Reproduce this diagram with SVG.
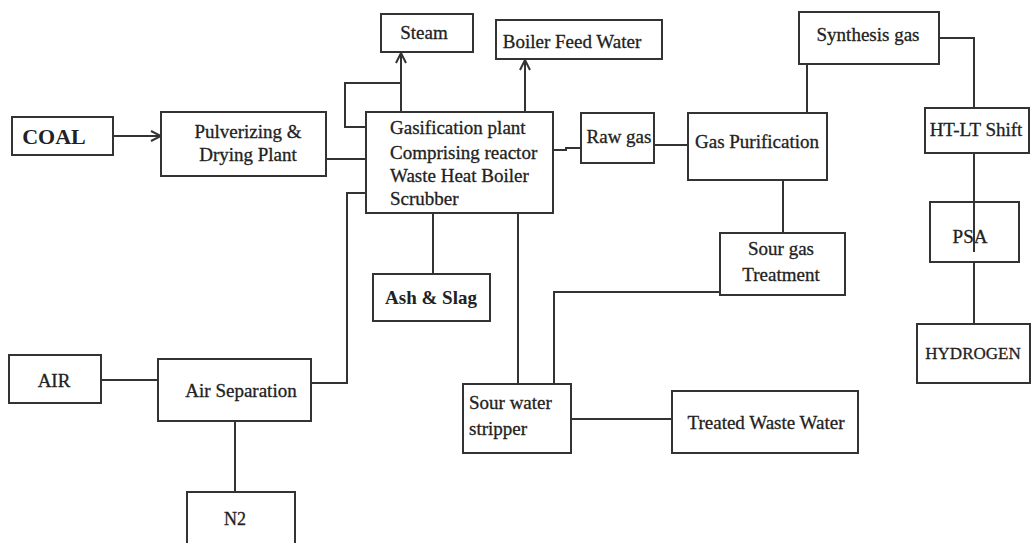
<svg xmlns="http://www.w3.org/2000/svg" width="1032" height="543" viewBox="0 0 1032 543">
<style>
.box{fill:#fff;stroke:#333;stroke-width:2}
.t{font-family:"Liberation Serif","Times New Roman",serif;font-size:19px;fill:#222;stroke:#222;stroke-width:0.3;text-anchor:middle}
.l{text-anchor:start}
.b{font-weight:bold;stroke-width:0}
.c{fill:none;stroke:#333;stroke-width:2}
</style>
<defs>
<marker id="arr" viewBox="0 0 12 12" refX="11" refY="6" markerWidth="12" markerHeight="12" markerUnits="userSpaceOnUse" orient="auto">
<path d="M1,1 L11,6 L1,11" fill="none" stroke="#333" stroke-width="2"/>
</marker>
</defs>
<rect width="1032" height="543" fill="#fff"/>
<g id="coal"><rect class="box" x="12" y="117" width="101" height="38"/><text class="t b" x="54" y="144" style="font-size:22px">COAL</text></g>
<g id="pulverizing"><rect class="box" x="161" y="112" width="165" height="64"/><text class="t" x="248" y="138">Pulverizing &amp;</text><text class="t" x="248" y="161">Drying Plant</text></g>
<g id="steam"><rect class="box" x="381" y="14" width="92" height="38"/><text class="t" x="424" y="39">Steam</text></g>
<g id="bfw"><rect class="box" x="496" y="20" width="166" height="39"/><text class="t" x="572" y="48">Boiler Feed Water</text></g>
<g id="gasification"><rect class="box" x="366" y="112" width="187" height="101"/>
<text class="t l" x="390" y="134">Gasification plant</text>
<text class="t l" x="390" y="159">Comprising reactor</text>
<text class="t l" x="390" y="182">Waste Heat Boiler</text>
<text class="t l" x="390" y="205">Scrubber</text></g>
<g id="rawgas"><rect class="box" x="581" y="113" width="73" height="50"/><text class="t" x="619" y="143">Raw gas</text></g>
<g id="gaspurification"><rect class="box" x="688" y="113" width="139" height="67"/><text class="t" x="757" y="148">Gas Purification</text></g>
<g id="synthesis"><rect class="box" x="799" y="12" width="140" height="52"/><text class="t" x="868" y="41">Synthesis gas</text></g>
<g id="htlt"><rect class="box" x="925" y="108" width="104" height="45"/><text class="t" x="976" y="136">HT-LT Shift</text></g>
<g id="psa"><rect class="box" x="930" y="202" width="89" height="60"/><text class="t" x="970" y="243" style="font-size:19px">PSA</text></g>
<g id="hydrogen"><rect class="box" x="917" y="324" width="113" height="59"/><text class="t" x="973" y="359" style="font-size:17px">HYDROGEN</text></g>
<g id="sourgas"><rect class="box" x="720" y="233" width="125" height="62"/><text class="t" x="781" y="255">Sour gas</text><text class="t" x="781" y="281">Treatment</text></g>
<g id="ashslag"><rect class="box" x="373" y="274" width="117" height="47"/><text class="t b" x="431" y="304">Ash &amp; Slag</text></g>
<g id="sourwater"><rect class="box" x="463" y="384" width="108" height="69"/><text class="t l" x="469" y="409">Sour water</text><text class="t l" x="469" y="435">stripper</text></g>
<g id="treated"><rect class="box" x="672" y="391" width="186" height="62"/><text class="t" x="766" y="429">Treated Waste Water</text></g>
<g id="air"><rect class="box" x="9" y="355" width="92" height="48"/><text class="t" x="54" y="387">AIR</text></g>
<g id="airsep"><rect class="box" x="158" y="359" width="153" height="62"/><text class="t" x="241" y="397">Air Separation</text></g>
<g id="n2"><rect class="box" x="187" y="492" width="108" height="60"/><text class="t" x="235" y="525" style="font-size:18px">N2</text></g>
<g id="connectors">
<path class="c" d="M113,136 H161" marker-end="url(#arr)"/>
<path class="c" d="M326,159 H366"/>
<path class="c" d="M401,112 V53" marker-end="url(#arr)"/>
<path class="c" d="M366,127 H345 V83 H401"/>
<path class="c" d="M525,112 V60" marker-end="url(#arr)"/>
<path class="c" d="M553,150 H566 V148 H581"/>
<path class="c" d="M654,145 H688"/>
<path class="c" d="M807,113 V64"/>
<path class="c" d="M939,38 H974 V108"/>
<path class="c" d="M974,153 V252"/>
<path class="c" d="M974,262 V324"/>
<path class="c" d="M783,180 V233"/>
<path class="c" d="M720,292 H554 V384"/>
<path class="c" d="M518,213 V384"/>
<path class="c" d="M433,213 V274"/>
<path class="c" d="M571,405 V427 M571,419 H672"/>
<path class="c" d="M101,380 H158"/>
<path class="c" d="M311,383 H347 V193 H366"/>
<path class="c" d="M235,421 V492"/>
</g>
</svg>
